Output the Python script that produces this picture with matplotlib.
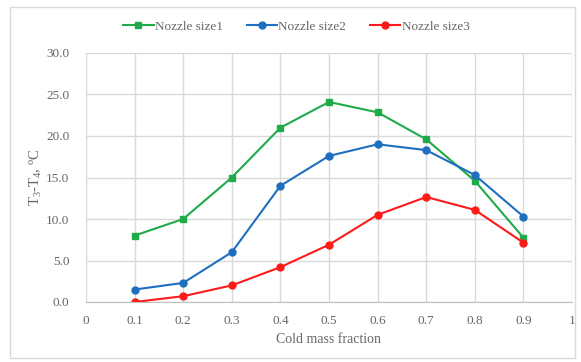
import matplotlib
matplotlib.use("Agg")
import matplotlib.pyplot as plt
from matplotlib.patches import Rectangle

plt.rcParams['font.family'] = ['Liberation Serif', 'DejaVu Serif']
plt.rcParams['mathtext.fontset'] = 'custom'
plt.rcParams['mathtext.rm'] = 'Liberation Serif'
plt.rcParams['mathtext.it'] = 'Liberation Serif'

x = [0.1, 0.2, 0.3, 0.4, 0.5, 0.6, 0.7, 0.8, 0.9]
size1 = [8.0, 10.0, 15.0, 21.0, 24.1, 22.85, 19.6, 14.6, 7.75]
size2 = [1.5, 2.3, 6.0, 14.0, 17.6, 19.0, 18.3, 15.3, 10.3]
size3 = [0.0, 0.7, 2.0, 4.2, 6.9, 10.5, 12.65, 11.1, 7.15]
labels = ['Nozzle size1', 'Nozzle size2', 'Nozzle size3']
xticks = [0, 0.1, 0.2, 0.3, 0.4, 0.5, 0.6, 0.7, 0.8, 0.9, 1]
xticklabels = ['0', '0.1', '0.2', '0.3', '0.4', '0.5', '0.6', '0.7', '0.8', '0.9', '1']
yticks = [0, 5, 10, 15, 20, 25, 30]

W, H = 581, 362
fig = plt.figure(figsize=(W/100, H/100), dpi=100)
fig.patches.append(Rectangle((10/W, 1 - 358/H), 565/W, 351/H, transform=fig.transFigure,
                             fill=False, edgecolor='#d9d9d9', linewidth=1))
ax = fig.add_axes([86/W, 1 - 302/H, (572-86)/W, (302-53)/H])

tc = '#666666'
ax.plot(x, size1, color='#1fab4a', marker='s', markersize=5, linewidth=1.5, label=labels[0])
ax.plot(x, size2, color='#1f6fc0', marker='o', markersize=5, linewidth=1.5, label=labels[1])
ax.plot(x, size3, color='#ff1a1a', marker='o', markersize=5, linewidth=1.5, label=labels[2])

ax.set_xlim(0, 1)
ax.set_ylim(0, 30)
ax.set_xticks(xticks)
ax.set_xticklabels(xticklabels)
ax.set_yticks(yticks)
ax.set_yticklabels([f'{v:.1f}' for v in yticks])
ax.grid(True, color='#d9d9d9', linewidth=1)
ax.set_axisbelow(True)
for s in ['top', 'right', 'left']:
    ax.spines[s].set_visible(False)
ax.spines['bottom'].set_color('#bfbfbf')
ax.tick_params(length=0, colors=tc, labelsize=9.5)
ax.tick_params(axis='x', pad=9)
ax.tick_params(axis='y', pad=12)
ax.set_xlabel('Cold mass fraction', color=tc, fontsize=10, labelpad=5)
ax.set_ylabel('T$_3$-T$_4$, $^{o}$C', color=tc, fontsize=10.5, labelpad=1.5)

leg = fig.legend(loc='center', bbox_to_anchor=(0.51, 1 - 27/H), ncol=3, frameon=False,
                 fontsize=9.5, handlelength=2.3, columnspacing=1.8, handletextpad=0.1)
for t in leg.get_texts():
    t.set_color(tc)

fig.savefig('out.png', dpi=100)
